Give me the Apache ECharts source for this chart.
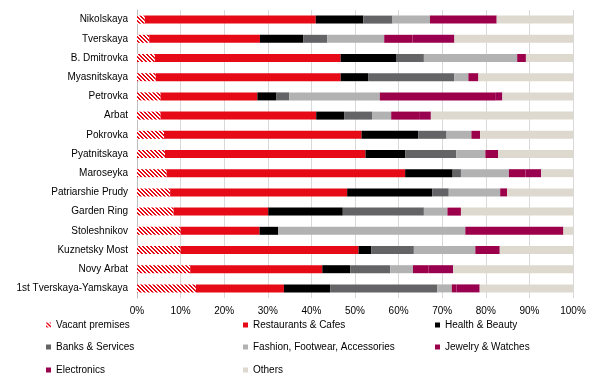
<!DOCTYPE html>
<html>
<head>
<meta charset="utf-8">
<script src="https://cdn.jsdelivr.net/npm/echarts@6/dist/echarts.min.js"></script>
<style>
html,body{margin:0;padding:0;background:#fff;}
#main{width:600px;height:381px;}
</style>
</head>
<body>
<div id="main"></div>
<script>
const categories = ["Nikolskaya","Tverskaya","B. Dmitrovka","Myasnitskaya","Petrovka","Arbat","Pokrovka","Pyatnitskaya","Maroseyka","Patriarshie Prudy","Garden Ring","Stoleshnikov","Kuznetsky Most","Novy Arbat","1st Tverskaya-Yamskaya"];
const vacant      = [1.8, 2.8, 4.1, 4.3, 5.4, 5.4, 6.2, 6.4, 6.8, 7.6, 8.4, 10.0, 10.0, 12.2, 13.5];
const restaurants = [39.2, 25.4, 42.6, 42.4, 22.2, 35.7, 45.3, 46.0, 54.7, 40.6, 21.7, 18.1, 40.8, 30.3, 20.2];
const health      = [10.9, 9.9, 12.7, 6.3, 4.4, 6.4, 13.0, 9.1, 10.9, 19.5, 17.1, 4.3, 2.9, 6.4, 10.6];
const banks       = [6.7, 5.5, 6.4, 19.8, 2.9, 6.4, 6.5, 11.7, 1.9, 3.8, 18.6, 0, 9.8, 9.2, 24.6];
const fashion     = [8.6, 13.1, 21.4, 3.2, 20.8, 4.4, 5.7, 6.7, 11.0, 11.8, 5.4, 42.9, 14.1, 5.2, 3.3];
const jewelry     = [15.3, 6.5, 2.0, 2.3, 26.6, 6.4, 2.0, 2.9, 3.8, 1.6, 3.1, 22.5, 5.6, 3.6, 1.1];
const electronics = [0, 9.6, 0, 0, 1.5, 2.7, 0, 0, 3.6, 0, 0, 0, 0, 5.6, 5.3];
const others      = [17.5, 27.2, 10.8, 21.7, 16.2, 32.6, 21.3, 17.2, 7.3, 15.1, 25.7, 2.2, 16.8, 27.5, 21.4];
const seriesNames = ["Vacant premises","Restaurants & Cafes","Health & Beauty","Banks & Services","Fashion, Footwear, Accessories","Jewelry & Watches","Electronics","Others"];
const tickLabels = ["0%","10%","20%","30%","40%","50%","60%","70%","80%","90%","100%"];

// hatch pattern for vacant premises
const pc = document.createElement('canvas');
pc.width = 4; pc.height = 4;
const pctx = pc.getContext('2d');
pctx.fillStyle = '#ffffff';
pctx.fillRect(0,0,4,4);
pctx.fillStyle = '#E60A17';
for (let y=0;y<4;y++){for(let x=0;x<4;x++){ if(((x - y + 8) % 4) < 2) pctx.fillRect(x,y,1,1);} }
const vacantColor = {image: pc, repeat: 'repeat'};

const colors = [vacantColor, '#E60A17', '#000000', '#646466', '#B2B2B2', '#9C004B', '#99004F', '#DDD9CE'];
const dataArr = [vacant, restaurants, health, banks, fashion, jewelry, electronics, others];

const series = seriesNames.map((n,i)=>({
  name: n,
  type: 'bar',
  stack: 'total',
  barWidth: 8,
  data: dataArr[i],
  itemStyle: {color: colors[i]},
  emphasis: {disabled: true}
}));

const font = 'Liberation Sans, Arial, sans-serif';
// legend grid: 3 columns x 3 rows (row-major order of series)
const legendCols = [41, 238, 430];
const legendRows = [314, 336, 359];
const legends = seriesNames.map((n,i)=>({
  orient: 'horizontal',
  left: legendCols[i % 3],
  top: legendRows[Math.floor(i / 3)],
  itemWidth: 5,
  itemHeight: 5,
  icon: 'rect',
  data: [n],
  textStyle: {fontFamily: font, fontSize: 10, color: '#000', lineHeight: 12},
  selectedMode: false
}));

const chart = echarts.init(document.getElementById('main'), null, {renderer: 'canvas'});
chart.setOption({
  animation: false,
  backgroundColor: '#ffffff',
  grid: {left: 137, right: 27, top: 10, height: 288, containLabel: false},
  xAxis: {
    type: 'value',
    min: 0, max: 100, interval: 10,
    axisLine: {show: false},
    axisTick: {show: false},
    splitLine: {show: true, lineStyle: {color: '#D9D9D9', width: 1}},
    axisLabel: {fontFamily: font, fontSize: 10, color: '#000', margin: 8,
      formatter: (v)=> tickLabels[Math.round(v/10)]}
  },
  yAxis: {
    type: 'category',
    data: categories,
    inverse: true,
    axisLine: {show: true, lineStyle: {color: '#BFBFBF', width: 1}},
    axisTick: {show: false},
    axisLabel: {fontFamily: font, fontSize: 10, color: '#000', margin: 9}
  },
  legend: legends,
  series: series
});
</script>
</body>
</html>
